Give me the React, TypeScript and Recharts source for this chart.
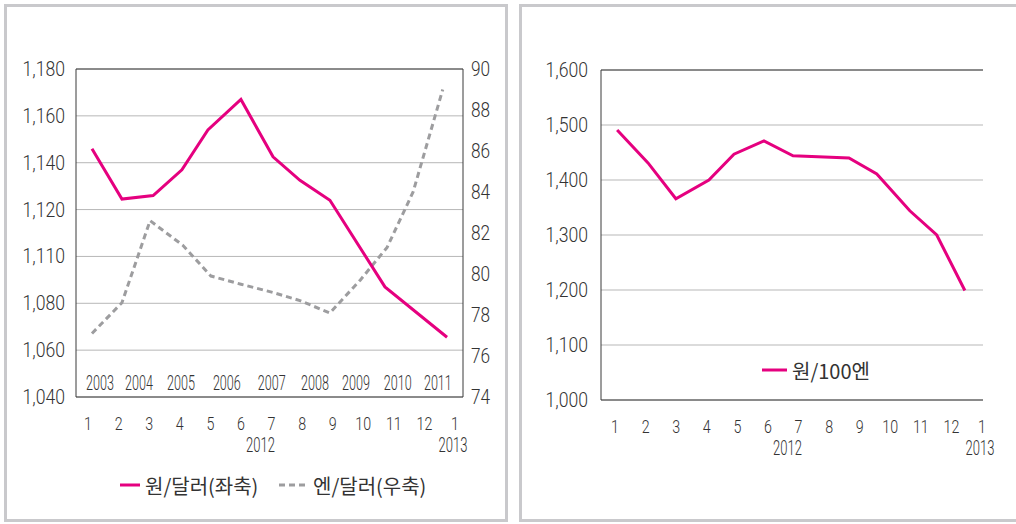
import { LineChart, Line, XAxis, YAxis, CartesianGrid, ReferenceLine, ReferenceDot, Legend } from "recharts";

// months on the x axis (1..12 of 2012, then 1 of 2013)
const MONTH_TICKS = [1, 2, 3, 4, 5, 6, 7, 8, 9, 10, 11, 12, 13];
const MONTH_LABELS = ["1", "2", "3", "4", "5", "6", "7", "8", "9", "10", "11", "12", "1"];
const YEAR_UNDER = { 7: "2012", 13: "2013" } as Record<number, string>;

// left chart: won/dollar (left axis), yen/dollar (right axis)
const WON_DOLLAR_MONTH = [1.13, 2.11, 3.13, 4.07, 4.92, 6.0, 7.05, 7.93, 8.91, 10.71, 12.74];
const WON_DOLLAR = [1146, 1124.5, 1126, 1137, 1154, 1167, 1142.5, 1132.5, 1124, 1087, 1065.5];
const YEN_DOLLAR_MONTH = [1.13, 2.11, 3.03, 4.1, 5.02, 6.0, 7.05, 7.93, 8.91, 9.9, 10.78, 11.63, 12.6];
const YEN_DOLLAR = [77.1, 78.6, 82.6, 81.4, 79.9, 79.5, 79.1, 78.7, 78.1, 79.7, 81.3, 84.0, 89.0];

const LEFT_TICKS = [1040, 1060, 1080, 1100, 1120, 1140, 1160, 1180];
const LEFT_TICK_LABELS = ["1,040", "1,060", "1,080", "1,110", "1,120", "1,140", "1,160", "1,180"];
const RIGHT_TICKS = [74, 76, 78, 80, 82, 84, 86, 88, 90];

// stray year labels printed inside the left plot
const INNER_YEARS = ["2003", "2004", "2005", "2006", "2007", "2008", "2009", "2010", "2011"];
const INNER_YEAR_AT = [1.39, 2.67, 4.04, 5.54, 7.01, 8.42, 9.76, 11.13, 12.44];

// right chart: won per 100 yen
const WON_100YEN_MONTH = [1.07, 2.08, 2.99, 4.07, 4.89, 5.87, 6.82, 8.65, 9.56, 10.64, 11.52, 12.44];
const WON_100YEN = [1491, 1431, 1366, 1400, 1447, 1471, 1444, 1440, 1411, 1344, 1300, 1199];
const JPY_TICKS = [1000, 1100, 1200, 1300, 1400, 1500, 1600];

const wonDollarData = WON_DOLLAR_MONTH.map((m, i) => ({ m, v: WON_DOLLAR[i] }));
const yenDollarData = YEN_DOLLAR_MONTH.map((m, i) => ({ m, v: YEN_DOLLAR[i] }));
const won100Data = WON_100YEN_MONTH.map((m, i) => ({ m, v: WON_100YEN[i] }));

const PINK = "#e5007f";
const GREY_DASH = "#9d9d9f";
const GRID = "#b7b7b7";
const FRAME = "#3a3a3a";
const TEXT = "#333";
const NUM_FONT = "Roboto, 'Liberation Sans', Arial, sans-serif";
const KO_FONT = "'Noto Sans CJK KR', 'Noto Sans', sans-serif";

function Squeezed({ x, y, text, sx, size, anchor }: any) {
  return (
    <text
      transform={`translate(${x},${y}) scale(${sx},1)`}
      textAnchor={anchor}
      dominantBaseline="central"
      fontSize={size}
      fontWeight={300}
      fontFamily={NUM_FONT}
      fill={TEXT}
    >
      {text}
    </text>
  );
}

const MonthTick = ({ x, y, payload }: any) => {
  const idx = MONTH_TICKS.indexOf(payload.value);
  const yr = YEAR_UNDER[payload.value];
  return (
    <g>
      <Squeezed x={x} y={y + 26} text={MONTH_LABELS[idx]} sx={0.75} size={19} anchor="middle" />
      {yr && <Squeezed x={x + (payload.value === 7 ? -11 : -2)} y={y + 48} text={yr} sx={0.62} size={21} anchor="middle" />}
    </g>
  );
};

const LeftTick = ({ x, y, payload }: any) => (
  <Squeezed x={x - 11} y={y} text={LEFT_TICK_LABELS[LEFT_TICKS.indexOf(payload.value)]} sx={0.84} size={21} anchor="end" />
);

const RightTick = ({ x, y, payload }: any) => (
  <Squeezed x={x + 8} y={y} text={String(payload.value)} sx={0.82} size={21} anchor="start" />
);

const JpyTick = ({ x, y, payload }: any) => (
  <Squeezed x={x - 13} y={y} text={payload.value.toLocaleString("en-US")} sx={0.84} size={21} anchor="end" />
);

const LeftLegend = () => (
  <svg width={340} height={30}>
    <line x1={20} x2={40} y1={15} y2={15} stroke={PINK} strokeWidth={3} />
    <text x={45} y={15} dominantBaseline="central" fontSize={20} fontFamily={KO_FONT} fill={TEXT}>원/달러(좌축)</text>
    <line x1={179} x2={205} y1={15} y2={15} stroke={GREY_DASH} strokeWidth={3} strokeDasharray="6 4" />
    <text x={213} y={15} dominantBaseline="central" fontSize={20} fontFamily={KO_FONT} fill={TEXT}>엔/달러(우축)</text>
  </svg>
);

const RightLegend = () => (
  <svg width={140} height={30}>
    <line x1={2} x2={27} y1={15} y2={15} stroke={PINK} strokeWidth={3} />
    <text x={32} y={15} dominantBaseline="central" fontSize={20} fontFamily={KO_FONT} fill={TEXT}>원/100엔</text>
  </svg>
);

export default function App() {
  return (
    <div style={{ position: "absolute", left: 0, top: 0, width: 1016, height: 524, overflow: "hidden", background: "#fff" }}>
      <div style={{ position: "absolute", left: 4, top: 4, width: 504, height: 518, border: "3px solid #c9c9cc", boxSizing: "border-box" }} />
      <div style={{ position: "absolute", left: 519, top: 4, width: 510, height: 518, border: "3px solid #c9c9cc", boxSizing: "border-box" }} />

      <div style={{ position: "absolute", left: 0, top: 0 }}>
        <LineChart width={508} height={524} margin={{ top: 69, right: 5, bottom: 67, left: 16 }}>
          <CartesianGrid yAxisId="left" vertical={false} stroke={GRID} />
          <XAxis
            type="number"
            dataKey="m"
            domain={[1, 13]}
            ticks={MONTH_TICKS}
            padding={{ left: 12, right: 8 }}
            height={60}
            tickSize={0}
            tickMargin={0}
            tickLine={false}
            axisLine={{ stroke: FRAME }}
            tick={<MonthTick />}
            interval={0}
          />
          <YAxis
            yAxisId="left"
            domain={[1040, 1180]}
            ticks={LEFT_TICKS}
            width={60}
            tickSize={0}
            tickMargin={0}
            tickLine={false}
            axisLine={{ stroke: FRAME }}
            tick={<LeftTick />}
            interval={0}
          />
          <YAxis
            yAxisId="right"
            orientation="right"
            domain={[74, 90]}
            ticks={RIGHT_TICKS}
            width={40}
            tickSize={0}
            tickMargin={0}
            tickLine={false}
            axisLine={{ stroke: FRAME }}
            tick={<RightTick />}
            interval={0}
          />
          <ReferenceLine yAxisId="left" y={1180} stroke={FRAME} />
          {INNER_YEARS.map((yr, i) => (
            <ReferenceDot
              key={yr}
              yAxisId="left"
              x={INNER_YEAR_AT[i]}
              y={1046}
              r={0}
              shape={(p: any) => <Squeezed x={p.cx} y={p.cy} text={yr} sx={0.6} size={21} anchor="middle" />}
            />
          ))}
          <Line
            yAxisId="right"
            data={yenDollarData}
            dataKey="v"
            stroke={GREY_DASH}
            strokeWidth={3}
            strokeDasharray="6 4"
            dot={false}
            isAnimationActive={false}
          />
          <Line
            yAxisId="left"
            data={wonDollarData}
            dataKey="v"
            stroke={PINK}
            strokeWidth={3}
            dot={false}
            isAnimationActive={false}
          />
          <Legend
            verticalAlign="middle"
            layout="horizontal"
            wrapperStyle={{ left: 100, top: 470, width: 340, height: 30 }}
            content={() => <LeftLegend />}
          />
        </LineChart>
      </div>

      <div style={{ position: "absolute", left: 520, top: 0 }}>
        <LineChart width={496} height={524} margin={{ top: 70, right: 33, bottom: 64, left: 16 }}>
          <CartesianGrid yAxisId="jpy" vertical={false} stroke={GRID} />
          <XAxis
            type="number"
            dataKey="m"
            domain={[1, 13]}
            ticks={MONTH_TICKS}
            padding={{ left: 14, right: 1 }}
            height={60}
            tickSize={0}
            tickMargin={0}
            tickLine={false}
            axisLine={{ stroke: FRAME }}
            tick={<MonthTick />}
            interval={0}
          />
          <YAxis
            yAxisId="jpy"
            domain={[1000, 1600]}
            ticks={JPY_TICKS}
            width={65}
            tickSize={0}
            tickMargin={0}
            tickLine={false}
            axisLine={{ stroke: FRAME }}
            tick={<JpyTick />}
            interval={0}
          />
          <YAxis yAxisId="edge" orientation="right" domain={[0, 1]} width={0} tick={false} tickLine={false} axisLine={{ stroke: FRAME }} />
          <ReferenceLine yAxisId="jpy" y={1600} stroke={FRAME} />
          <Line
            yAxisId="jpy"
            data={won100Data}
            dataKey="v"
            stroke={PINK}
            strokeWidth={3}
            dot={false}
            isAnimationActive={false}
          />
          <Legend
            verticalAlign="middle"
            layout="horizontal"
            wrapperStyle={{ left: 240, top: 355, width: 140, height: 30 }}
            content={() => <RightLegend />}
          />
        </LineChart>
      </div>
    </div>
  );
}
